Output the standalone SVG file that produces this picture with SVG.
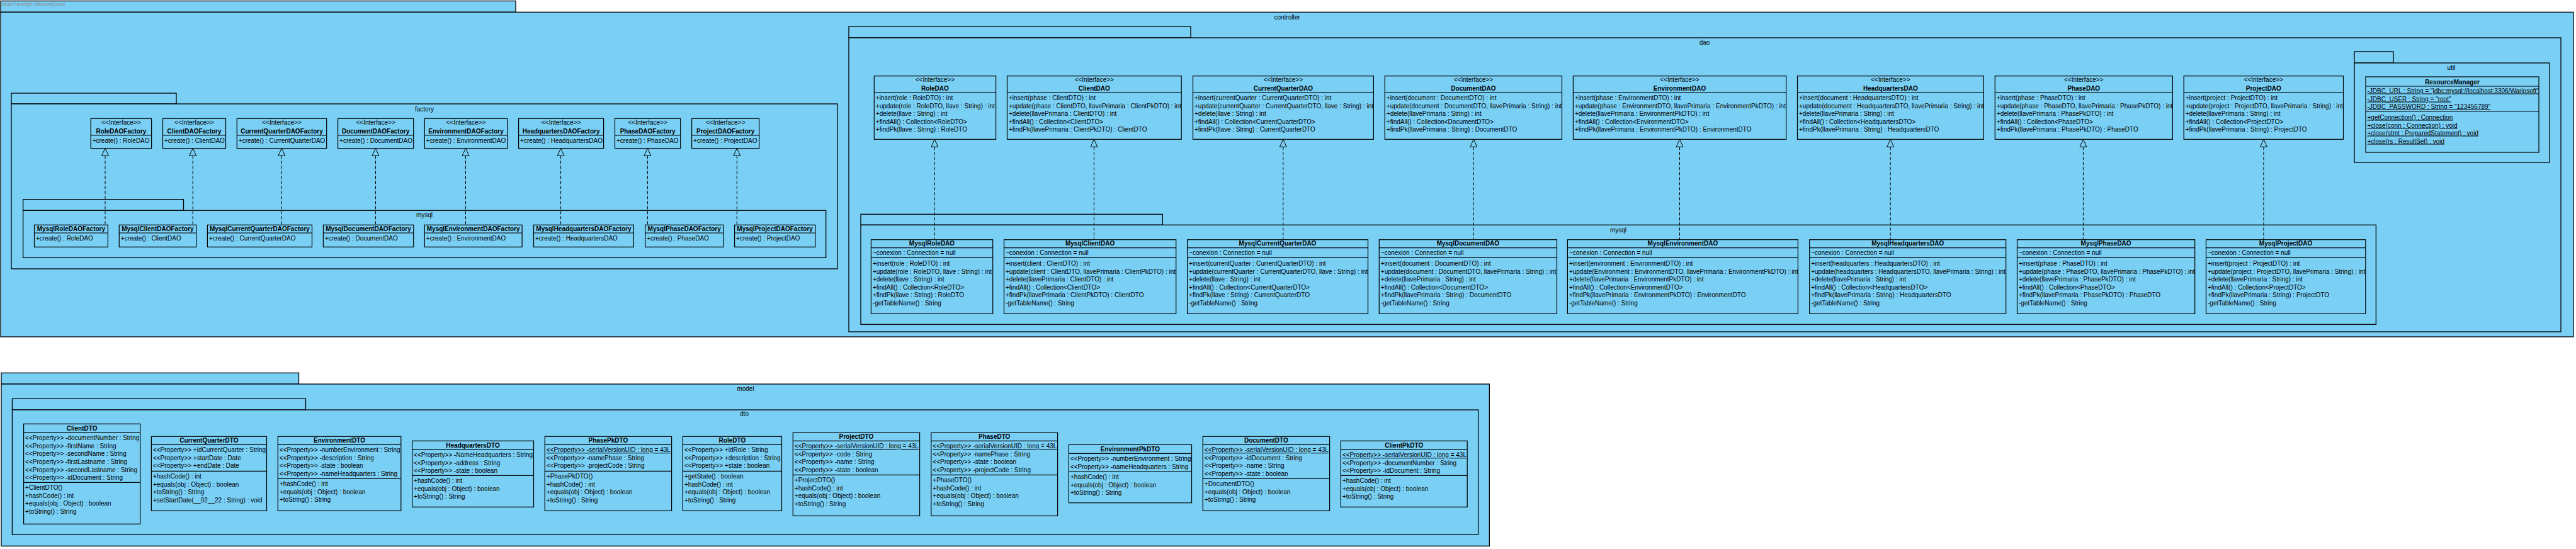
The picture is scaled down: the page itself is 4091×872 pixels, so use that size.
<svg xmlns="http://www.w3.org/2000/svg" width="4091" height="872" viewBox="0 0 4091 872">
<style>
.pk{fill:#7ACFF5;stroke:#000;stroke-width:1.3}
.bx{fill:#7ACFF5;stroke:#000;stroke-width:1.2}
.ln{stroke:#000;stroke-width:1.2}
text{font-family:"Liberation Sans",Arial,sans-serif;font-size:10px;fill:#000}
.b{font-weight:bold}
.c{text-anchor:middle}
.u{text-decoration:underline}
.wm{font-size:7px;fill:#8a8a8a}
.cn{stroke:#000;stroke-width:1;stroke-dasharray:5,3;fill:none}
.tr{fill:#7ACFF5;stroke:#000;stroke-width:1}
</style>
<rect width="4091" height="872" fill="#fff"/>
<!-- packages -->
<g id="pkg-controller">
<rect class="pk" x="1" y="1.5" width="818" height="17.8"/>
<text class="wm" x="1" y="9">Visual Paradigm Standard(Sena)</text>
<rect class="pk" x="1" y="19.3" width="4086" height="515.7"/>
<text class="c" x="2044" y="30.5">controller</text>
</g>
<g id="pkg-factory">
<rect class="pk" x="18" y="148" width="262" height="17"/>
<rect class="pk" x="18" y="165" width="1312" height="262"/>
<text class="c" x="674" y="176.5">factory</text>
</g>
<g id="pkg-factory-mysql">
<rect class="pk" x="36.6" y="316.7" width="254.9" height="17.6"/>
<rect class="pk" x="36.6" y="334.3" width="1275.1" height="75"/>
<text class="c" x="674" y="344.5">mysql</text>
</g>
<g id="pkg-dao">
<rect class="pk" x="1348" y="42" width="543" height="18"/>
<rect class="pk" x="1348" y="60" width="2719" height="467"/>
<text class="c" x="2707" y="70.5">dao</text>
</g>
<g id="pkg-dao-mysql">
<rect class="pk" x="1367" y="340.3" width="479.3" height="17"/>
<rect class="pk" x="1367" y="357.3" width="2406.4" height="158"/>
<text class="c" x="2570" y="368.5">mysql</text>
</g>
<g id="pkg-util">
<rect class="pk" x="3739" y="82" width="62" height="18"/>
<rect class="pk" x="3739" y="100" width="310" height="158"/>
<text class="c" x="3893" y="110.5">util</text>
</g>
<g id="pkg-model">
<rect class="pk" x="2" y="592.3" width="472.5" height="17.7"/>
<rect class="pk" x="2" y="610" width="2363.4" height="257.3"/>
<text class="c" x="1184" y="621.2">model</text>
</g>
<g id="pkg-dto">
<rect class="pk" x="19.4" y="633.3" width="466.1" height="17.7"/>
<rect class="pk" x="19.4" y="651" width="2328.2" height="198.3"/>
<text class="c" x="1182" y="661.2">dto</text>
</g>

<!-- factory interfaces -->
<g id="RoleDAOFactory" transform="translate(144.2,188.3)"><rect class="bx" width="96.4" height="47.4"/><line class="ln" x1="0" y1="26.7" x2="96.4" y2="26.7"/><text class="c" x="48.2" y="9.5">&lt;&lt;Interface&gt;&gt;</text><text class="c b" x="48.2" y="23.9">RoleDAOFactory</text><text x="2.5" y="38.5">+create() : RoleDAO</text></g>
<g id="ClientDAOFactory" transform="translate(258.5,188.3)"><rect class="bx" width="100" height="47.4"/><line class="ln" x1="0" y1="26.7" x2="100" y2="26.7"/><text class="c" x="50" y="9.5">&lt;&lt;Interface&gt;&gt;</text><text class="c b" x="50" y="23.9">ClientDAOFactory</text><text x="2.5" y="38.5">+create() : ClientDAO</text></g>
<g id="CurrentQuarterDAOFactory" transform="translate(376.3,188.3)"><rect class="bx" width="142.4" height="47.4"/><line class="ln" x1="0" y1="26.7" x2="142.4" y2="26.7"/><text class="c" x="71.2" y="9.5">&lt;&lt;Interface&gt;&gt;</text><text class="c b" x="71.2" y="23.9">CurrentQuarterDAOFactory</text><text x="2.5" y="38.5">+create() : CurrentQuarterDAO</text></g>
<g id="DocumentDAOFactory" transform="translate(536.6,188.3)"><rect class="bx" width="120.1" height="47.4"/><line class="ln" x1="0" y1="26.7" x2="120.1" y2="26.7"/><text class="c" x="60" y="9.5">&lt;&lt;Interface&gt;&gt;</text><text class="c b" x="60" y="23.9">DocumentDAOFactory</text><text x="2.5" y="38.5">+create() : DocumentDAO</text></g>
<g id="EnvironmentDAOFactory" transform="translate(674.3,188.3)"><rect class="bx" width="131.4" height="47.4"/><line class="ln" x1="0" y1="26.7" x2="131.4" y2="26.7"/><text class="c" x="65.7" y="9.5">&lt;&lt;Interface&gt;&gt;</text><text class="c b" x="65.7" y="23.9">EnvironmentDAOFactory</text><text x="2.5" y="38.5">+create() : EnvironmentDAO</text></g>
<g id="HeadquartersDAOFactory" transform="translate(823.6,188.3)"><rect class="bx" width="135" height="47.4"/><line class="ln" x1="0" y1="26.7" x2="135" y2="26.7"/><text class="c" x="67.5" y="9.5">&lt;&lt;Interface&gt;&gt;</text><text class="c b" x="67.5" y="23.9">HeadquartersDAOFactory</text><text x="2.5" y="38.5">+create() : HeadquartersDAO</text></g>
<g id="PhaseDAOFactory" transform="translate(976.5,188.3)"><rect class="bx" width="104.2" height="47.4"/><line class="ln" x1="0" y1="26.7" x2="104.2" y2="26.7"/><text class="c" x="52.1" y="9.5">&lt;&lt;Interface&gt;&gt;</text><text class="c b" x="52.1" y="23.9">PhaseDAOFactory</text><text x="2.5" y="38.5">+create() : PhaseDAO</text></g>
<g id="ProjectDAOFactory" transform="translate(1098.6,188.3)"><rect class="bx" width="107" height="47.4"/><line class="ln" x1="0" y1="26.7" x2="107" y2="26.7"/><text class="c" x="53.5" y="9.5">&lt;&lt;Interface&gt;&gt;</text><text class="c b" x="53.5" y="23.9">ProjectDAOFactory</text><text x="2.5" y="38.5">+create() : ProjectDAO</text></g>

<!-- mysql factories -->
<g id="MysqlRoleDAOFactory" transform="translate(54.5,357.3)"><rect class="bx" width="116.9" height="35"/><line class="ln" x1="0" y1="12.7" x2="116.9" y2="12.7"/><text class="c b" x="58.4" y="9.9">MysqlRoleDAOFactory</text><text x="2.5" y="24.9">+create() : RoleDAO</text></g>
<g id="MysqlClientDAOFactory" transform="translate(189.3,357.3)"><rect class="bx" width="122.3" height="35"/><line class="ln" x1="0" y1="12.7" x2="122.3" y2="12.7"/><text class="c b" x="61.1" y="9.9">MysqlClientDAOFactory</text><text x="2.5" y="24.9">+create() : ClientDAO</text></g>
<g id="MysqlCurrentQuarterDAOFactory" transform="translate(329.4,357.3)"><rect class="bx" width="166.1" height="35"/><line class="ln" x1="0" y1="12.7" x2="166.1" y2="12.7"/><text class="c b" x="83" y="9.9">MysqlCurrentQuarterDAOFactory</text><text x="2.5" y="24.9">+create() : CurrentQuarterDAO</text></g>
<g id="MysqlDocumentDAOFactory" transform="translate(513.4,357.3)"><rect class="bx" width="143.3" height="35"/><line class="ln" x1="0" y1="12.7" x2="143.3" y2="12.7"/><text class="c b" x="71.6" y="9.9">MysqlDocumentDAOFactory</text><text x="2.5" y="24.9">+create() : DocumentDAO</text></g>
<g id="MysqlEnvironmentDAOFactory" transform="translate(674.3,357.3)"><rect class="bx" width="154.8" height="35"/><line class="ln" x1="0" y1="12.7" x2="154.8" y2="12.7"/><text class="c b" x="77.4" y="9.9">MysqlEnvironmentDAOFactory</text><text x="2.5" y="24.9">+create() : EnvironmentDAO</text></g>
<g id="MysqlHeadquartersDAOFactory" transform="translate(847.5,357.3)"><rect class="bx" width="158.8" height="35"/><line class="ln" x1="0" y1="12.7" x2="158.8" y2="12.7"/><text class="c b" x="79.4" y="9.9">MysqlHeadquartersDAOFactory</text><text x="2.5" y="24.9">+create() : HeadquartersDAO</text></g>
<g id="MysqlPhaseDAOFactory" transform="translate(1024.7,357.3)"><rect class="bx" width="124" height="35"/><line class="ln" x1="0" y1="12.7" x2="124" y2="12.7"/><text class="c b" x="62" y="9.9">MysqlPhaseDAOFactory</text><text x="2.5" y="24.9">+create() : PhaseDAO</text></g>
<g id="MysqlProjectDAOFactory" transform="translate(1166.6,357.3)"><rect class="bx" width="128.1" height="35"/><line class="ln" x1="0" y1="12.7" x2="128.1" y2="12.7"/><text class="c b" x="64" y="9.9">MysqlProjectDAOFactory</text><text x="2.5" y="24.9">+create() : ProjectDAO</text></g>

<!-- DAO interfaces -->
<g id="RoleDAO" transform="translate(1388.3,120.7)"><rect class="bx" width="193.3" height="100.6"/><line class="ln" x1="0" y1="26.6" x2="193.3" y2="26.6"/><text class="c" x="96.6" y="9.5">&lt;&lt;Interface&gt;&gt;</text><text class="c b" x="96.6" y="23.5">RoleDAO</text>
<text x="2.5" y="38.5">+insert(role : RoleDTO) : int</text><text x="2.5" y="51">+update(role : RoleDTO, llave : String) : int</text><text x="2.5" y="63.5">+delete(llave : String) : int</text><text x="2.5" y="76">+findAll() : Collection&lt;RoleDTO&gt;</text><text x="2.5" y="88.5">+findPk(llave : String) : RoleDTO</text></g>
<g id="ClientDAO" transform="translate(1599.5,120.7)"><rect class="bx" width="276.7" height="100.6"/><line class="ln" x1="0" y1="26.6" x2="276.7" y2="26.6"/><text class="c" x="138.3" y="9.5">&lt;&lt;Interface&gt;&gt;</text><text class="c b" x="138.3" y="23.5">ClientDAO</text>
<text x="2.5" y="38.5">+insert(phase : ClientDTO) : int</text><text x="2.5" y="51">+update(phase : ClientDTO, llavePrimaria : ClientPkDTO) : int</text><text x="2.5" y="63.5">+delete(llavePrimaria : ClientDTO) : int</text><text x="2.5" y="76">+findAll() : Collection&lt;ClientDTO&gt;</text><text x="2.5" y="88.5">+findPk(llavePrimaria : ClientPkDTO) : ClientDTO</text></g>
<g id="CurrentQuarterDAO" transform="translate(1894.5,120.7)"><rect class="bx" width="286.9" height="100.6"/><line class="ln" x1="0" y1="26.6" x2="286.9" y2="26.6"/><text class="c" x="143.4" y="9.5">&lt;&lt;Interface&gt;&gt;</text><text class="c b" x="143.4" y="23.5">CurrentQuarterDAO</text>
<text x="2.5" y="38.5">+insert(currentQuarter : CurrentQuarterDTO) : int</text><text x="2.5" y="51">+update(currentQuarter : CurrentQuarterDTO, llave : String) : int</text><text x="2.5" y="63.5">+delete(llave : String) : int</text><text x="2.5" y="76">+findAll() : Collection&lt;CurrentQuarterDTO&gt;</text><text x="2.5" y="88.5">+findPk(llave : String) : CurrentQuarterDTO</text></g>
<g id="DocumentDAO" transform="translate(2199.3,120.7)"><rect class="bx" width="281.2" height="100.6"/><line class="ln" x1="0" y1="26.6" x2="281.2" y2="26.6"/><text class="c" x="140.6" y="9.5">&lt;&lt;Interface&gt;&gt;</text><text class="c b" x="140.6" y="23.5">DocumentDAO</text>
<text x="2.5" y="38.5">+insert(document : DocumentDTO) : int</text><text x="2.5" y="51">+update(document : DocumentDTO, llavePrimaria : String) : int</text><text x="2.5" y="63.5">+delete(llavePrimaria : String) : int</text><text x="2.5" y="76">+findAll() : Collection&lt;DocumentDTO&gt;</text><text x="2.5" y="88.5">+findPk(llavePrimaria : String) : DocumentDTO</text></g>
<g id="EnvironmentDAO" transform="translate(2498.4,120.7)"><rect class="bx" width="338.2" height="100.6"/><line class="ln" x1="0" y1="26.6" x2="338.2" y2="26.6"/><text class="c" x="169.1" y="9.5">&lt;&lt;Interface&gt;&gt;</text><text class="c b" x="169.1" y="23.5">EnvironmentDAO</text>
<text x="2.5" y="38.5">+insert(phase : EnvironmentDTO) : int</text><text x="2.5" y="51">+update(phase : EnvironmentDTO, llavePrimaria : EnvironmentPkDTO) : int</text><text x="2.5" y="63.5">+delete(llavePrimaria : EnvironmentPkDTO) : int</text><text x="2.5" y="76">+findAll() : Collection&lt;EnvironmentDTO&gt;</text><text x="2.5" y="88.5">+findPk(llavePrimaria : EnvironmentPkDTO) : EnvironmentDTO</text></g>
<g id="HeadquartersDAO" transform="translate(2854.5,120.7)"><rect class="bx" width="295.9" height="100.6"/><line class="ln" x1="0" y1="26.6" x2="295.9" y2="26.6"/><text class="c" x="147.9" y="9.5">&lt;&lt;Interface&gt;&gt;</text><text class="c b" x="147.9" y="23.5">HeadquartersDAO</text>
<text x="2.5" y="38.5">+insert(document : HeadquartersDTO) : int</text><text x="2.5" y="51">+update(document : HeadquartersDTO, llavePrimaria : String) : int</text><text x="2.5" y="63.5">+delete(llavePrimaria : String) : int</text><text x="2.5" y="76">+findAll() : Collection&lt;HeadquartersDTO&gt;</text><text x="2.5" y="88.5">+findPk(llavePrimaria : String) : HeadquartersDTO</text></g>
<g id="PhaseDAO" transform="translate(3168.3,120.7)"><rect class="bx" width="282.1" height="100.6"/><line class="ln" x1="0" y1="26.6" x2="282.1" y2="26.6"/><text class="c" x="141" y="9.5">&lt;&lt;Interface&gt;&gt;</text><text class="c b" x="141" y="23.5">PhaseDAO</text>
<text x="2.5" y="38.5">+insert(phase : PhaseDTO) : int</text><text x="2.5" y="51">+update(phase : PhaseDTO, llavePrimaria : PhasePkDTO) : int</text><text x="2.5" y="63.5">+delete(llavePrimaria : PhasePkDTO) : int</text><text x="2.5" y="76">+findAll() : Collection&lt;PhaseDTO&gt;</text><text x="2.5" y="88.5">+findPk(llavePrimaria : PhasePkDTO) : PhaseDTO</text></g>
<g id="ProjectDAO" transform="translate(3468.2,120.7)"><rect class="bx" width="253.3" height="100.6"/><line class="ln" x1="0" y1="26.6" x2="253.3" y2="26.6"/><text class="c" x="126.6" y="9.5">&lt;&lt;Interface&gt;&gt;</text><text class="c b" x="126.6" y="23.5">ProjectDAO</text>
<text x="2.5" y="38.5">+insert(project : ProjectDTO) : int</text><text x="2.5" y="51">+update(project : ProjectDTO, llavePrimaria : String) : int</text><text x="2.5" y="63.5">+delete(llavePrimaria : String) : int</text><text x="2.5" y="76">+findAll() : Collection&lt;ProjectDTO&gt;</text><text x="2.5" y="88.5">+findPk(llavePrimaria : String) : ProjectDTO</text></g>

<!-- Mysql DAOs -->
<g id="MysqlRoleDAO" transform="translate(1383.4,380.7)"><rect class="bx" width="193.3" height="117.6"/><line class="ln" x1="0" y1="13" x2="193.3" y2="13"/><line class="ln" x1="0" y1="28.6" x2="193.3" y2="28.6"/><text class="c b" x="96.6" y="9.5">MysqlRoleDAO</text><text x="2.5" y="24.5">~conexion : Connection = null</text>
<text x="2.5" y="41.5">+insert(role : RoleDTO) : int</text><text x="2.5" y="54">+update(role : RoleDTO, llave : String) : int</text><text x="2.5" y="66.5">+delete(llave : String) : int</text><text x="2.5" y="79">+findAll() : Collection&lt;RoleDTO&gt;</text><text x="2.5" y="91.5">+findPk(llave : String) : RoleDTO</text><text x="2.5" y="104">-getTableName() : String</text></g>
<g id="MysqlClientDAO" transform="translate(1594.5,380.7)"><rect class="bx" width="273.2" height="117.6"/><line class="ln" x1="0" y1="13" x2="273.2" y2="13"/><line class="ln" x1="0" y1="28.6" x2="273.2" y2="28.6"/><text class="c b" x="136.6" y="9.5">MysqlClientDAO</text><text x="2.5" y="24.5">~conexion : Connection = null</text>
<text x="2.5" y="41.5">+insert(client : ClientDTO) : int</text><text x="2.5" y="54">+update(client : ClientDTO, llavePrimaria : ClientPkDTO) : int</text><text x="2.5" y="66.5">+delete(llavePrimaria : ClientDTO) : int</text><text x="2.5" y="79">+findAll() : Collection&lt;ClientDTO&gt;</text><text x="2.5" y="91.5">+findPk(llavePrimaria : ClientPkDTO) : ClientDTO</text><text x="2.5" y="104">-getTableName() : String</text></g>
<g id="MysqlCurrentQuarterDAO" transform="translate(1885.6,380.7)"><rect class="bx" width="286.9" height="117.6"/><line class="ln" x1="0" y1="13" x2="286.9" y2="13"/><line class="ln" x1="0" y1="28.6" x2="286.9" y2="28.6"/><text class="c b" x="143.4" y="9.5">MysqlCurrentQuarterDAO</text><text x="2.5" y="24.5">~conexion : Connection = null</text>
<text x="2.5" y="41.5">+insert(currentQuarter : CurrentQuarterDTO) : int</text><text x="2.5" y="54">+update(currentQuarter : CurrentQuarterDTO, llave : String) : int</text><text x="2.5" y="66.5">+delete(llave : String) : int</text><text x="2.5" y="79">+findAll() : Collection&lt;CurrentQuarterDTO&gt;</text><text x="2.5" y="91.5">+findPk(llave : String) : CurrentQuarterDTO</text><text x="2.5" y="104">-getTableName() : String</text></g>
<g id="MysqlDocumentDAO" transform="translate(2190.3,380.7)"><rect class="bx" width="282.2" height="117.6"/><line class="ln" x1="0" y1="13" x2="282.2" y2="13"/><line class="ln" x1="0" y1="28.6" x2="282.2" y2="28.6"/><text class="c b" x="141.1" y="9.5">MysqlDocumentDAO</text><text x="2.5" y="24.5">~conexion : Connection = null</text>
<text x="2.5" y="41.5">+insert(document : DocumentDTO) : int</text><text x="2.5" y="54">+update(document : DocumentDTO, llavePrimaria : String) : int</text><text x="2.5" y="66.5">+delete(llavePrimaria : String) : int</text><text x="2.5" y="79">+findAll() : Collection&lt;DocumentDTO&gt;</text><text x="2.5" y="91.5">+findPk(llavePrimaria : String) : DocumentDTO</text><text x="2.5" y="104">-getTableName() : String</text></g>
<g id="MysqlEnvironmentDAO" transform="translate(2489.4,380.7)"><rect class="bx" width="366" height="117.6"/><line class="ln" x1="0" y1="13" x2="366" y2="13"/><line class="ln" x1="0" y1="28.6" x2="366" y2="28.6"/><text class="c b" x="183" y="9.5">MysqlEnvironmentDAO</text><text x="2.5" y="24.5">~conexion : Connection = null</text>
<text x="2.5" y="41.5">+insert(environment : EnvironmentDTO) : int</text><text x="2.5" y="54">+update(Environment : EnvironmentDTO, llavePrimaria : EnvironmentPkDTO) : int</text><text x="2.5" y="66.5">+delete(llavePrimaria : EnvironmentPkDTO) : int</text><text x="2.5" y="79">+findAll() : Collection&lt;EnvironmentDTO&gt;</text><text x="2.5" y="91.5">+findPk(llavePrimaria : EnvironmentPkDTO) : EnvironmentDTO</text><text x="2.5" y="104">-getTableName() : String</text></g>
<g id="MysqlHeadquartersDAO" transform="translate(2873.7,380.7)"><rect class="bx" width="312" height="117.6"/><line class="ln" x1="0" y1="13" x2="312" y2="13"/><line class="ln" x1="0" y1="28.6" x2="312" y2="28.6"/><text class="c b" x="156" y="9.5">MysqlHeadquartersDAO</text><text x="2.5" y="24.5">~conexion : Connection = null</text>
<text x="2.5" y="41.5">+insert(headquarters : HeadquartersDTO) : int</text><text x="2.5" y="54">+update(headquarters : HeadquartersDTO, llavePrimaria : String) : int</text><text x="2.5" y="66.5">+delete(llavePrimaria : String) : int</text><text x="2.5" y="79">+findAll() : Collection&lt;HeadquartersDTO&gt;</text><text x="2.5" y="91.5">+findPk(llavePrimaria : String) : HeadquartersDTO</text><text x="2.5" y="104">-getTableName() : String</text></g>
<g id="MysqlPhaseDAO" transform="translate(3203.5,380.7)"><rect class="bx" width="282.2" height="117.6"/><line class="ln" x1="0" y1="13" x2="282.2" y2="13"/><line class="ln" x1="0" y1="28.6" x2="282.2" y2="28.6"/><text class="c b" x="141.1" y="9.5">MysqlPhaseDAO</text><text x="2.5" y="24.5">~conexion : Connection = null</text>
<text x="2.5" y="41.5">+insert(phase : PhaseDTO) : int</text><text x="2.5" y="54">+update(phase : PhaseDTO, llavePrimaria : PhasePkDTO) : int</text><text x="2.5" y="66.5">+delete(llavePrimaria : PhasePkDTO) : int</text><text x="2.5" y="79">+findAll() : Collection&lt;PhaseDTO&gt;</text><text x="2.5" y="91.5">+findPk(llavePrimaria : PhasePkDTO) : PhaseDTO</text><text x="2.5" y="104">-getTableName() : String</text></g>
<g id="MysqlProjectDAO" transform="translate(3503.5,380.7)"><rect class="bx" width="253.3" height="117.6"/><line class="ln" x1="0" y1="13" x2="253.3" y2="13"/><line class="ln" x1="0" y1="28.6" x2="253.3" y2="28.6"/><text class="c b" x="126.6" y="9.5">MysqlProjectDAO</text><text x="2.5" y="24.5">~conexion : Connection = null</text>
<text x="2.5" y="41.5">+insert(project : ProjectDTO) : int</text><text x="2.5" y="54">+update(project : ProjectDTO, llavePrimaria : String) : int</text><text x="2.5" y="66.5">+delete(llavePrimaria : String) : int</text><text x="2.5" y="79">+findAll() : Collection&lt;ProjectDTO&gt;</text><text x="2.5" y="91.5">+findPk(llavePrimaria : String) : ProjectDTO</text><text x="2.5" y="104">-getTableName() : String</text></g>

<!-- util -->
<g id="ResourceManager" transform="translate(3757,122)"><rect class="bx" width="275" height="120"/><line class="ln" x1="0" y1="15" x2="275" y2="15"/><line class="ln" x1="0" y1="55" x2="275" y2="55"/><text class="c b" x="137.5" y="11.5">ResourceManager</text>
<text class="u" x="2.5" y="25.5">-JDBC_URL : String = "jdbc:mysql://localhost:3306/Wariosoft"</text><text class="u" x="2.5" y="38.5">-JDBC_USER : String = "root"</text><text class="u" x="2.5" y="50.5">-JDBC_PASSWORD : String = "123456789"</text>
<text class="u" x="2.5" y="67.5">+getConnection() : Connection</text><text class="u" x="2.5" y="80.5">+close(conn : Connection) : void</text><text class="u" x="2.5" y="92.5">+close(stmt : PreparedStatement) : void</text><text class="u" x="2.5" y="105.5">+close(rs : ResultSet) : void</text></g>

<!-- DTOs -->
<g id="ClientDTO" transform="translate(37.6,673.3)"><rect class="bx" width="185" height="159"/><line class="ln" x1="0" y1="14" x2="185" y2="14"/><line class="ln" x1="0" y1="93" x2="185" y2="93"/><text class="c b" x="92.5" y="10.5">ClientDTO</text>
<text x="2.5" y="25.9">&lt;&lt;Property&gt;&gt; -documentNumber : String</text><text x="2.5" y="38.5">&lt;&lt;Property&gt;&gt; -firstName : String</text><text x="2.5" y="51.1">&lt;&lt;Property&gt;&gt; -secondName : String</text><text x="2.5" y="63.7">&lt;&lt;Property&gt;&gt; -firstLastname : String</text><text x="2.5" y="76.3">&lt;&lt;Property&gt;&gt; -secondLastname : String</text><text x="2.5" y="88.9">&lt;&lt;Property&gt;&gt; -idDocument : String</text>
<text x="2.5" y="104.9">+ClientDTO()</text><text x="2.5" y="117.5">+hashCode() : int</text><text x="2.5" y="130.1">+equals(obj : Object) : boolean</text><text x="2.5" y="142.7">+toString() : String</text></g>
<g id="CurrentQuarterDTO" transform="translate(240.4,693.3)"><rect class="bx" width="183.1" height="118"/><line class="ln" x1="0" y1="13" x2="183.1" y2="13"/><line class="ln" x1="0" y1="55" x2="183.1" y2="55"/><text class="c b" x="91.5" y="10">CurrentQuarterDTO</text>
<text x="2.5" y="24.9">&lt;&lt;Property&gt;&gt; +idCurrentQuarter : String</text><text x="2.5" y="37.5">&lt;&lt;Property&gt;&gt; +startDate : Date</text><text x="2.5" y="50.1">&lt;&lt;Property&gt;&gt; +endDate : Date</text>
<text x="2.5" y="66.9">+hashCode() : int</text><text x="2.5" y="79.5">+equals(obj : Object) : boolean</text><text x="2.5" y="92.1">+toString() : String</text><text x="2.5" y="104.7">+setStartDate(__02__22 : String) : void</text></g>
<g id="EnvironmentDTO" transform="translate(441.3,693.3)"><rect class="bx" width="195.5" height="118"/><line class="ln" x1="0" y1="13" x2="195.5" y2="13"/><line class="ln" x1="0" y1="67" x2="195.5" y2="67"/><text class="c b" x="97.7" y="10">EnvironmentDTO</text>
<text x="2.5" y="24.9">&lt;&lt;Property&gt;&gt; -numberEnvironment : String</text><text x="2.5" y="37.5">&lt;&lt;Property&gt;&gt; -description : String</text><text x="2.5" y="50.1">&lt;&lt;Property&gt;&gt; -state : boolean</text><text x="2.5" y="62.7">&lt;&lt;Property&gt;&gt; -nameHeadquarters : String</text>
<text x="2.5" y="78.9">+hashCode() : int</text><text x="2.5" y="91.5">+equals(obj : Object) : boolean</text><text x="2.5" y="104.1">+toString() : String</text></g>
<g id="HeadquartersDTO" transform="translate(654.6,700.3)"><rect class="bx" width="192.9" height="105"/><line class="ln" x1="0" y1="14" x2="192.9" y2="14"/><line class="ln" x1="0" y1="55" x2="192.9" y2="55"/><text class="c b" x="96.4" y="10.5">HeadquartersDTO</text>
<text x="2.5" y="25.9">&lt;&lt;Property&gt;&gt; -NameHeadquarters : String</text><text x="2.5" y="38.5">&lt;&lt;Property&gt;&gt; -address : String</text><text x="2.5" y="51.1">&lt;&lt;Property&gt;&gt; -state : boolean</text>
<text x="2.5" y="66.9">+hashCode() : int</text><text x="2.5" y="79.5">+equals(obj : Object) : boolean</text><text x="2.5" y="92.1">+toString() : String</text></g>
<g id="PhasePkDTO" transform="translate(865.3,693.3)"><rect class="bx" width="201.3" height="118"/><line class="ln" x1="0" y1="13" x2="201.3" y2="13"/><line class="ln" x1="0" y1="55" x2="201.3" y2="55"/><text class="c b" x="100.6" y="10">PhasePkDTO</text>
<text class="u" x="2.5" y="24.9">&lt;&lt;Property&gt;&gt; -serialVersionUID : long = 43L</text><text x="2.5" y="37.5">&lt;&lt;Property&gt;&gt; -namePhase : String</text><text x="2.5" y="50.1">&lt;&lt;Property&gt;&gt; -projectCode : String</text>
<text x="2.5" y="66.9">+PhasePkDTO()</text><text x="2.5" y="79.5">+hashCode() : int</text><text x="2.5" y="92.1">+equals(obj : Object) : boolean</text><text x="2.5" y="104.7">+toString() : String</text></g>
<g id="RoleDTO" transform="translate(1084.4,693.3)"><rect class="bx" width="157.1" height="118"/><line class="ln" x1="0" y1="13" x2="157.1" y2="13"/><line class="ln" x1="0" y1="55" x2="157.1" y2="55"/><text class="c b" x="78.5" y="10">RoleDTO</text>
<text x="2.5" y="24.9">&lt;&lt;Property&gt;&gt; +idRole : String</text><text x="2.5" y="37.5">&lt;&lt;Property&gt;&gt; +description : String</text><text x="2.5" y="50.1">&lt;&lt;Property&gt;&gt; +state : boolean</text>
<text x="2.5" y="66.9">+getState() : boolean</text><text x="2.5" y="79.5">+hashCode() : int</text><text x="2.5" y="92.1">+equals(obj : Object) : boolean</text><text x="2.5" y="104.7">+toString() : String</text></g>
<g id="ProjectDTO" transform="translate(1259.3,687.3)"><rect class="bx" width="201.3" height="132"/><line class="ln" x1="0" y1="13" x2="201.3" y2="13"/><line class="ln" x1="0" y1="67" x2="201.3" y2="67"/><text class="c b" x="100.6" y="10">ProjectDTO</text>
<text class="u" x="2.5" y="24.9">&lt;&lt;Property&gt;&gt; -serialVersionUID : long = 43L</text><text x="2.5" y="37.5">&lt;&lt;Property&gt;&gt; -code : String</text><text x="2.5" y="50.1">&lt;&lt;Property&gt;&gt; -name : String</text><text x="2.5" y="62.7">&lt;&lt;Property&gt;&gt; -state : boolean</text>
<text x="2.5" y="78.9">+ProjectDTO()</text><text x="2.5" y="91.5">+hashCode() : int</text><text x="2.5" y="104.1">+equals(obj : Object) : boolean</text><text x="2.5" y="116.7">+toString() : String</text></g>
<g id="PhaseDTO" transform="translate(1478.8,687.3)"><rect class="bx" width="200.8" height="132"/><line class="ln" x1="0" y1="13" x2="200.8" y2="13"/><line class="ln" x1="0" y1="67" x2="200.8" y2="67"/><text class="c b" x="100.4" y="10">PhaseDTO</text>
<text class="u" x="2.5" y="24.9">&lt;&lt;Property&gt;&gt; -serialVersionUID : long = 43L</text><text x="2.5" y="37.5">&lt;&lt;Property&gt;&gt; -namePhase : String</text><text x="2.5" y="50.1">&lt;&lt;Property&gt;&gt; -state : boolean</text><text x="2.5" y="62.7">&lt;&lt;Property&gt;&gt; -projectCode : String</text>
<text x="2.5" y="78.9">+PhaseDTO()</text><text x="2.5" y="91.5">+hashCode() : int</text><text x="2.5" y="104.1">+equals(obj : Object) : boolean</text><text x="2.5" y="116.7">+toString() : String</text></g>
<g id="EnvironmentPkDTO" transform="translate(1697.4,706.3)"><rect class="bx" width="195.1" height="92.4"/><line class="ln" x1="0" y1="14" x2="195.1" y2="14"/><line class="ln" x1="0" y1="43" x2="195.1" y2="43"/><text class="c b" x="97.5" y="10.5">EnvironmentPkDTO</text>
<text x="2.5" y="25.9">&lt;&lt;Property&gt;&gt; -numberEnvironment : String</text><text x="2.5" y="38.5">&lt;&lt;Property&gt;&gt; -nameHeadquarters : String</text>
<text x="2.5" y="54.9">+hashCode() : int</text><text x="2.5" y="67.5">+equals(obj : Object) : boolean</text><text x="2.5" y="80.1">+toString() : String</text></g>
<g id="DocumentDTO" transform="translate(1910.3,693.3)"><rect class="bx" width="201.3" height="118"/><line class="ln" x1="0" y1="13" x2="201.3" y2="13"/><line class="ln" x1="0" y1="67" x2="201.3" y2="67"/><text class="c b" x="100.6" y="10">DocumentDTO</text>
<text class="u" x="2.5" y="24.9">&lt;&lt;Property&gt;&gt; -serialVersionUID : long = 43L</text><text x="2.5" y="37.5">&lt;&lt;Property&gt;&gt; -idDocument : String</text><text x="2.5" y="50.1">&lt;&lt;Property&gt;&gt; -name : String</text><text x="2.5" y="62.7">&lt;&lt;Property&gt;&gt; -state : boolean</text>
<text x="2.5" y="78.9">+DocumentDTO()</text><text x="2.5" y="91.5">+equals(obj : Object) : boolean</text><text x="2.5" y="104.1">+toString() : String</text></g>
<g id="ClientPkDTO" transform="translate(2129.4,700.3)"><rect class="bx" width="200.8" height="105"/><line class="ln" x1="0" y1="14" x2="200.8" y2="14"/><line class="ln" x1="0" y1="55" x2="200.8" y2="55"/><text class="c b" x="100.4" y="10.5">ClientPkDTO</text>
<text class="u" x="2.5" y="25.9">&lt;&lt;Property&gt;&gt; -serialVersionUID : long = 43L</text><text x="2.5" y="38.5">&lt;&lt;Property&gt;&gt; -documentNumber : String</text><text x="2.5" y="51.1">&lt;&lt;Property&gt;&gt; -idDocument : String</text>
<text x="2.5" y="66.9">+hashCode() : int</text><text x="2.5" y="79.5">+equals(obj : Object) : boolean</text><text x="2.5" y="92.1">+toString() : String</text></g>

<!-- connectors (realization) -->
<g id="connectors">
<path class="cn" d="M167,247.3V357.3M306.2,247.3V357.3M447.3,247.3V357.3M596.4,247.3V357.3M739.5,247.3V357.3M890.6,247.3V357.3M1028.4,247.3V357.3M1170.3,247.3V357.3"/>
<path class="tr" d="M167,235.7l-5.5,11.6h11zM306.2,235.7l-5.5,11.6h11zM447.3,235.7l-5.5,11.6h11zM596.4,235.7l-5.5,11.6h11zM739.5,235.7l-5.5,11.6h11zM890.6,235.7l-5.5,11.6h11zM1028.4,235.7l-5.5,11.6h11zM1170.3,235.7l-5.5,11.6h11z"/>
<path class="cn" d="M1484.3,233.3V380.7M1737.4,233.3V380.7M2037.8,233.3V380.7M2340.3,233.3V380.7M2667.5,233.3V380.7M3002.2,233.3V380.7M3308.4,233.3V380.7M3594.9,233.3V380.7"/>
<path class="tr" d="M1484.3,221.3l-5.4,12h10.8zM1737.4,221.3l-5.4,12h10.8zM2037.8,221.3l-5.4,12h10.8zM2340.3,221.3l-5.4,12h10.8zM2667.5,221.3l-5.4,12h10.8zM3002.2,221.3l-5.4,12h10.8zM3308.4,221.3l-5.4,12h10.8zM3594.9,221.3l-5.4,12h10.8z"/>
</g>
</svg>
